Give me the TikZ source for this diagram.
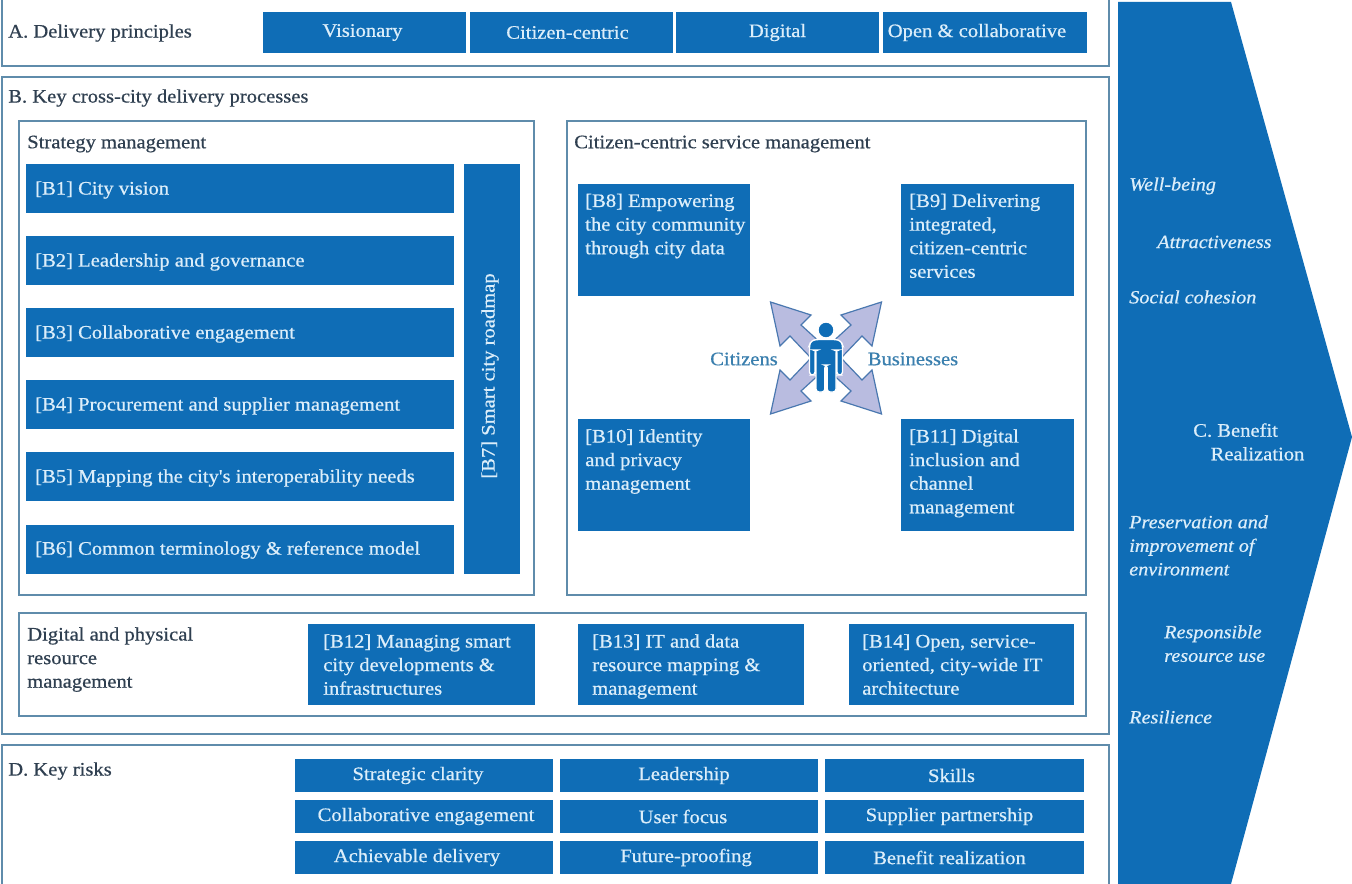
\documentclass[tikz,border=0pt]{standalone}
\usepackage{fontspec}
\setmainfont{Liberation Serif}[FakeStretch=1.08,AutoFakeBold=0.6]
\newfontfamily\lblfont{Liberation Serif}[FakeStretch=1.08,FakeBold=0.6]
\newfontfamily\itfont{Liberation Serif Italic}[FakeStretch=1.08,FakeBold=0.6]
\usetikzlibrary{calc}
\definecolor{bluefill}{HTML}{0F6DB6}
\definecolor{frameblue}{HTML}{5F8CAB}
\definecolor{labeldark}{HTML}{2F3F50}
\definecolor{paletext}{HTML}{DCEEFA}
\definecolor{arrowfill}{HTML}{B9BCE0}
\definecolor{arrowline}{HTML}{4A78B0}
\definecolor{citetext}{HTML}{3A7FAE}
\newcommand{\bx}[6]{%
  \path let \n1={#4-#2}, \n2={#5-#3} in
    node[bluebox, minimum width=0.75pt*\n1, minimum height=0.75pt*\n2] (#1) at ({(#2+#4)/2},{(#3+#5)/2}) {#6};}
\tikzset{
  x=0.75pt, y=-0.75pt,
  lbl/.style={font=\lblfont\fontsize{14.3}{17.7}\selectfont},
  bluebox/.style={fill=bluefill, draw=none, inner sep=0pt, text=paletext, lbl},
  framebox/.style={draw=frameblue, line width=1.3pt, fill=white},
  darklabel/.style={anchor=west, inner sep=0pt, text=labeldark, align=left, lbl},
  palelabel/.style={anchor=west, inner sep=0pt, text=paletext, align=left, lbl},
  multilabel/.style={anchor=north west, inner sep=0pt, text=paletext, align=left, lbl},
  benefit/.style={anchor=west, inner sep=0pt, text=paletext, align=left, font=\itfont\fontsize{14}{17.7}\selectfont},
  arrowshape/.style={fill=arrowfill, draw=arrowline, line width=0.9pt, line join=miter},
  personshape/.style={fill=bluefill, draw=white, line width=1pt},
  citelabel/.style={inner sep=0pt, text=citetext, font=\lblfont\fontsize{14.3}{16}\selectfont},
}
\begin{document}
\begin{tikzpicture}
\useasboundingbox (0,0) rectangle (1352,884);
\fill[white] (0,0) rectangle (1352,884);
% frames
\draw[framebox] (2,-2) rectangle (1109,66);
\draw[framebox] (2,77) rectangle (1109,734);
\draw[framebox] (19,121) rectangle (534,595);
\draw[framebox] (567,121) rectangle (1086,595);
\draw[framebox] (19,613) rectangle (1086,716);
\draw[framebox] (2,745) rectangle (1109,890);
% titles
\node[darklabel] (ta) at (8,33) {A. Delivery principles};
\node[darklabel] (tb) at (8,98) {B. Key cross-city delivery processes};
\node[darklabel] (ts) at (27,144) {Strategy management};
\node[darklabel] (tc) at (574,144) {Citizen-centric service management};
\node[darklabel, anchor=north west] (td) at (27,627) {Digital and physical\\resource\\management};
\node[darklabel] (tk) at (8,771) {D. Key risks};
% A
\bx{a1}{263}{12}{466}{53}{\hspace*{-3pt}\raisebox{1pt}{Visionary}}
\bx{a2}{470}{12}{673}{53}{\hspace*{-6pt}Citizen-centric}
\bx{a3}{676}{12}{879}{53}{\raisebox{1pt}{Digital}}
\bx{a4}{883}{12}{1087}{53}{\hspace*{-12pt}\raisebox{1pt}{Open \& collaborative}}
% B1-B6
\bx{b1}{26}{164}{454}{213}{}
\bx{b2}{26}{236}{454}{285}{}
\bx{b3}{26}{308}{454}{357}{}
\bx{b4}{26}{380}{454}{429}{}
\bx{b5}{26}{452}{454}{501}{}
\bx{b6}{26}{525}{454}{574}{}
\node[palelabel] at (35,190) {[B1] City vision};
\node[palelabel] at (35,262) {[B2] Leadership and governance};
\node[palelabel] at (35,334) {[B3] Collaborative engagement};
\node[palelabel] at (35,406) {[B4] Procurement and supplier management};
\node[palelabel] at (35,478) {[B5] Mapping the city's interoperability needs};
\node[palelabel] at (35,550) {[B6] Common terminology \& reference model};
\bx{b7}{464}{164}{520}{574}{}
\node[palelabel, anchor=center, rotate=90] at (490,376) {[B7] Smart city roadmap};
% B8-B11
\bx{b8}{578}{184}{750}{296}{}
\bx{b9}{901}{184}{1074}{296}{}
\bx{b10}{578}{419}{750}{531}{}
\bx{b11}{901}{419}{1074}{531}{}
\node[multilabel] at (585,193.5) {[B8] Empowering\\the city community\\through city data};
\node[multilabel] at (909,193.5) {[B9] Delivering\\integrated,\\citizen-centric\\services};
\node[multilabel] at (585,429) {[B10] Identity\\and privacy\\management};
\node[multilabel] at (909,429) {[B11] Digital\\inclusion and\\channel\\management};
% B12-14
\bx{b12}{308}{624}{535}{705}{}
\bx{b13}{578}{624}{804}{705}{}
\bx{b14}{849}{624}{1074}{705}{}
\node[multilabel] at (323,634) {[B12] Managing smart\\city developments \&\\infrastructures};
\node[multilabel] at (592,634) {[B13] IT and data\\resource mapping \&\\management};
\node[multilabel] at (862,634) {[B14] Open, service-\\oriented, city-wide IT\\architecture};
% risks
\bx{r1}{295}{759}{553}{792}{\hspace*{-9pt}Strategic clarity}
\bx{r2}{560}{759}{818}{792}{\hspace*{-7.5pt}Leadership}
\bx{r3}{825}{759}{1084}{792}{\hspace*{-4.5pt}Skills}
\bx{r4}{295}{800}{553}{833}{\hspace*{3pt}Collaborative engagement}
\bx{r5}{560}{800}{818}{833}{\hspace*{-9pt}User focus}
\bx{r6}{825}{800}{1084}{833}{\hspace*{-7.5pt}Supplier partnership}
\bx{r7}{295}{841}{553}{874}{\hspace*{-10.5pt}Achievable delivery}
\bx{r8}{560}{841}{818}{874}{\hspace*{-4.5pt}Future-proofing}
\bx{r9}{825}{841}{1084}{874}{\hspace*{-7.5pt}Benefit realization}
% chevron
\fill[bluefill] (1118,2) -- (1231,2) -- (1352,437) -- (1231,884) -- (1118,884) -- cycle;
\node[benefit] at (1129,186) {Well-being};
\node[benefit] at (1157,242) {Attractiveness};
\node[benefit] at (1129,297) {Social cohesion};
\node[palelabel, anchor=north west] at (1193,423) {C. Benefit\\\hspace*{13pt}Realization};
\node[benefit, anchor=north west] at (1129,515) {Preservation and\\improvement of\\environment};
\node[benefit, anchor=north west] at (1164,625) {Responsible\\resource use};
\node[benefit] at (1129,717) {Resilience};
% arrows
\foreach \sx/\sy in {1/1,-1/1,1/-1,-1/-1}{
  \begin{scope}[shift={(826,358)}, xscale=\sx, yscale=\sy]
    \draw[arrowshape] (2,-12) -- (25,-33) -- (15,-43) -- (55.5,-56) -- (46,-12) -- (36,-22) -- (16,-1) -- (0,0) -- cycle;
  \end{scope}
}
% person
\begin{scope}[shift={(826,358)}]
  \draw[personshape, rounded corners=2.2pt]
    (-15,-17) -- (-10,-18.5) -- (10,-18.5) -- (15,-17) -- (16.5,-13) -- (16.5,17) -- (11,17) -- (11,-8) -- (10,-8) -- (10,34) -- (1.2,34) -- (1.2,7) -- (-1.2,7) -- (-1.2,34) -- (-10,34) -- (-10,-8) -- (-11,-8) -- (-11,17) -- (-16.5,17) -- (-16.5,-13) -- cycle;
  \draw[personshape] (0,-28) circle (8);
\end{scope}
\node[citelabel] (cit) at (744,359) {Citizens};
\node[citelabel] (bus) at (913,359) {Businesses};
\end{tikzpicture}
\end{document}
